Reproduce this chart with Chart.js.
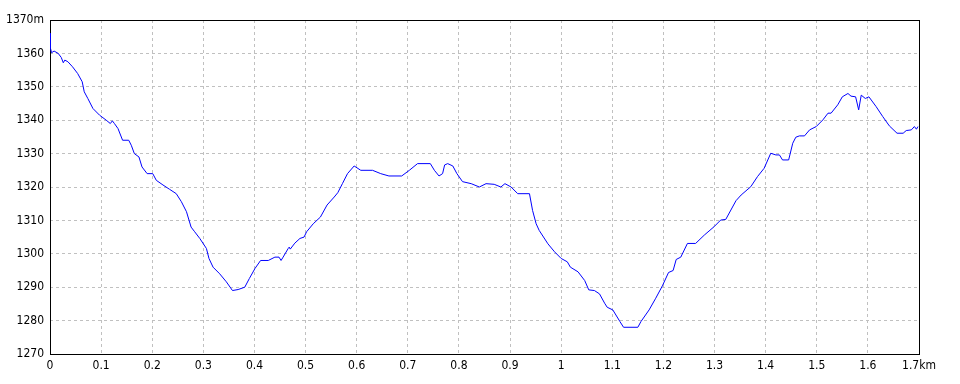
<!DOCTYPE html>
<html>
<head>
<meta charset="utf-8">
<script src="https://cdn.jsdelivr.net/npm/chart.js@4/dist/chart.umd.min.js"></script>
<style>
  html, body { margin: 0; padding: 0; background: #fff; }
  #wrap { width: 960px; height: 384px; }
</style>
</head>
<body>
<div id="wrap"><canvas id="profile"></canvas></div>
<script>
// elevation profile, distance in km, elevation in m
const distKm = [
  0, 0.001, 0.003, 0.008, 0.016, 0.022, 0.026, 0.029, 0.035, 0.044, 0.054, 0.063, 0.067, 0.074, 0.084, 0.097,
  0.110, 0.118, 0.122, 0.126, 0.133, 0.142, 0.154, 0.159, 0.165, 0.174, 0.180, 0.190, 0.201, 0.208, 0.221,
  0.234, 0.247, 0.257, 0.267, 0.276, 0.283, 0.293, 0.306, 0.311, 0.319, 0.332, 0.345, 0.357, 0.368, 0.381,
  0.390, 0.401, 0.412, 0.427, 0.440, 0.448, 0.452, 0.456, 0.466, 0.468, 0.470, 0.479, 0.489, 0.497, 0.502,
  0.515, 0.529, 0.542, 0.556, 0.563, 0.572, 0.582, 0.595, 0.608, 0.631, 0.647, 0.663, 0.688, 0.703, 0.719,
  0.744, 0.752, 0.761, 0.768, 0.772, 0.778, 0.788, 0.796, 0.807, 0.824, 0.840, 0.853, 0.869, 0.882, 0.890,
  0.902, 0.915, 0.938, 0.944, 0.951, 0.957, 0.974, 0.987, 1.000, 1.012, 1.018, 1.033, 1.046, 1.054, 1.065,
  1.075, 1.085, 1.090, 1.101, 1.115, 1.122, 1.150, 1.156, 1.172, 1.185, 1.198, 1.210, 1.219, 1.225, 1.234,
  1.247, 1.263, 1.280, 1.299, 1.312, 1.322, 1.332, 1.342, 1.352, 1.371, 1.384, 1.397, 1.410, 1.420, 1.427,
  1.433, 1.445, 1.453, 1.459, 1.466, 1.476, 1.486, 1.499, 1.512, 1.522, 1.528, 1.541, 1.550, 1.561, 1.567,
  1.576, 1.582, 1.587, 1.595, 1.602, 1.616, 1.629, 1.642, 1.657, 1.669, 1.675, 1.685, 1.691, 1.695, 1.698
];
const elevM = [
  1366, 1361.5, 1360.2, 1360.7, 1360, 1358.8, 1357.2, 1358, 1357.5, 1356, 1354, 1351.5, 1348.5, 1346.5, 1343.5, 1341.5,
  1340, 1339, 1339.8, 1339, 1337.5, 1334, 1334, 1332.5, 1330, 1329, 1326, 1324, 1324, 1322, 1320.6,
  1319.3, 1318, 1315.6, 1312.6, 1308, 1306.6, 1304.6, 1301.6, 1298.6, 1296, 1294, 1291.6, 1289, 1289.3, 1290,
  1292.6, 1295.6, 1298, 1298, 1299, 1299, 1298, 1299, 1301.6, 1302, 1301.4, 1303.2, 1304.6, 1305, 1306.6,
  1309, 1311, 1314.6, 1317, 1318.3, 1321, 1324, 1326.3, 1325, 1325, 1324, 1323.3, 1323.3, 1325, 1327,
  1327, 1325, 1323.3, 1324, 1326.6, 1327, 1326.3, 1324, 1321.6, 1321, 1320, 1321, 1320.8, 1320, 1321,
  1320, 1318, 1318, 1313, 1309, 1307, 1303, 1300.6, 1298.6, 1297.6, 1296, 1294.6, 1292, 1289.2, 1289,
  1288, 1285.2, 1284, 1283.2, 1279.7, 1278, 1278, 1279.7, 1283.2, 1286.7, 1290.4, 1294.4, 1295, 1298.3, 1299,
  1303.1, 1303.1, 1305.6, 1308.1, 1310.1, 1310.3, 1313.1, 1315.9, 1317.6, 1320.1, 1323.1, 1325.6, 1330.1, 1329.6, 1329.6,
  1328.1, 1328.1, 1333.1, 1334.9, 1335.3, 1335.3, 1337.1, 1338.1, 1340.1, 1342.1, 1342.1, 1344.6, 1347, 1348, 1347.2,
  1347, 1343.1, 1347.5, 1346.5, 1347, 1344.1, 1341.1, 1338.3, 1336.1, 1336.1, 1336.9, 1337.1, 1338.1, 1337.3, 1338.1
];
const xMin = 0, xMax = 1.7, xStep = 0.1;
const yMin = 1270, yMax = 1370, yStep = 10;

const points = distKm.map((d, i) => ({ x: d, y: elevM[i] }));

// black frame around the plot area, drawn under the line
const frame = {
  id: 'frame',
  beforeDatasetsDraw(chart) {
    const a = chart.chartArea;
    const ctx = chart.ctx;
    ctx.save();
    ctx.strokeStyle = '#000';
    ctx.lineWidth = 1;
    ctx.strokeRect(Math.round(a.left) + 0.5, Math.round(a.top) + 0.5,
      Math.round(a.right - a.left), Math.round(a.bottom - a.top));
    ctx.restore();
  }
};

const tickFont = { family: '"Liberation Sans Narrow", "DejaVu Sans Condensed", sans-serif', size: 12 };

new Chart(document.getElementById('profile'), {
  type: 'line',
  data: {
    datasets: [{
      data: points,
      borderColor: '#0000ff',
      borderWidth: 1,
      pointRadius: 0,
      tension: 0,
      fill: false
    }]
  },
  options: {
    responsive: true,
    maintainAspectRatio: false,
    animation: false,
    layout: { padding: { left: 0, right: 41, top: 20, bottom: 0 } },
    plugins: { legend: { display: false }, tooltip: { enabled: false } },
    scales: {
      x: {
        type: 'linear',
        min: xMin, max: xMax,
        afterFit: s => { s.height = 30; },
        ticks: {
          stepSize: xStep,
          color: '#000',
          font: tickFont,
          padding: 5,
          maxRotation: 0,
          callback: v => {
            const r = Math.round(v * 10) / 10;
            return r === xMax ? r + 'km' : String(r);
          }
        },
        grid: { color: '#c0c0c0', drawTicks: false },
        border: { display: false, dash: [3, 3] }
      },
      y: {
        min: yMin, max: yMax,
        afterFit: s => { s.width = 50; },
        ticks: {
          stepSize: yStep,
          color: '#000',
          font: tickFont,
          padding: 6,
          callback: v => v === yMax ? v + 'm' : String(v)
        },
        grid: { color: '#c0c0c0', drawTicks: false },
        border: { display: false, dash: [3, 3] }
      }
    }
  },
  plugins: [frame]
});
</script>
</body>
</html>
